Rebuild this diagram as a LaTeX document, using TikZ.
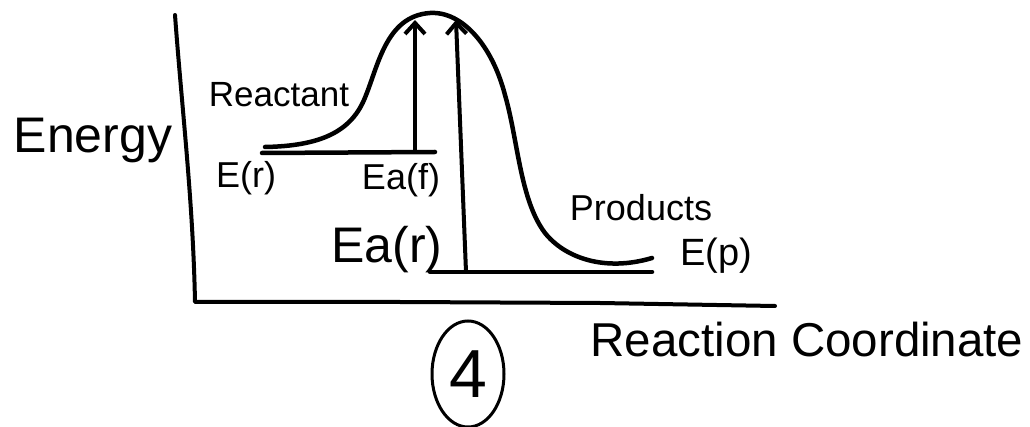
\documentclass[tikz,border=0pt]{standalone}
\usepackage{fontspec}
\setmainfont{Liberation Sans}
\usetikzlibrary{arrows.meta,shapes.geometric}
\tikzset{
  ink/.style={line width=4.5pt, line cap=round, line join=round, black},
  axisline/.style={line width=4pt, line cap=round, line join=round, black},
  uparrow/.style={line width=4pt, line cap=round, -{Straight Barb[length=11pt,width=20pt,line width=4pt]}},
  lbl/.style={inner sep=0pt, font=\fontsize{#1}{#1}\selectfont},
}
\begin{document}
\begin{tikzpicture}[x=1pt,y=-1pt]
\useasboundingbox (0,0) rectangle (1030,427);
% axes
\coordinate (ytop) at (175,15);
\coordinate (origin) at (195,302);
\coordinate (xend) at (775,306);
\draw[axisline] (ytop) .. controls (182,110) and (193,200) .. (origin)
  -- (400,302) -- (600,303) -- (xend);
% energy curve
\coordinate (cstart) at (265,147);
\coordinate (peak) at (430,13);
\coordinate (cend) at (652,258);
\draw[ink] (cstart) .. controls (320,146) and (350,132) .. (364,100)
  .. controls (378,68) and (385,16) .. (peak)
  .. controls (462,11) and (492,45) .. (505,95)
  .. controls (518,140) and (520,200) .. (545,233)
  .. controls (565,258) and (605,272) .. (cend);
% reactant level
\coordinate (er1) at (262,153);
\coordinate (er2) at (435,152);
\draw[ink] (er1) -- (er2);
% products level
\coordinate (ep1) at (430,272);
\coordinate (ep2) at (652,272);
\draw[ink] (ep1) -- (ep2);
% activation arrows
\coordinate (fa) at (415,152);
\coordinate (ft) at (415,20);
\draw[uparrow] (fa) -- (ft);
\coordinate (ra) at (466,272);
\coordinate (rt) at (456,20);
\draw[uparrow] (ra) -- (rt);
% labels
\node[lbl=50] (energy) at (93,140) {Energy};
\node[lbl=35] (reactant) at (279,95) {Reactant};
\node[lbl=36] (Er) at (246,178) {E(r)};
\node[lbl=36] (Eaf) at (401,180) {Ea(f)};
\node[lbl=50] (Ear) at (387,250) {Ea(r)};
\node[lbl=36] (products) at (641,208) {Products};
\node[lbl=38] (Ep) at (716,256) {E(p)};
\node[lbl=47.5] (rc) at (807,340) {Reaction Coordinate};
\node[lbl=68, draw, ellipse, line width=3pt, minimum width=72pt, minimum height=106pt] (four) at (468,374) {4};
\end{tikzpicture}
\end{document}
